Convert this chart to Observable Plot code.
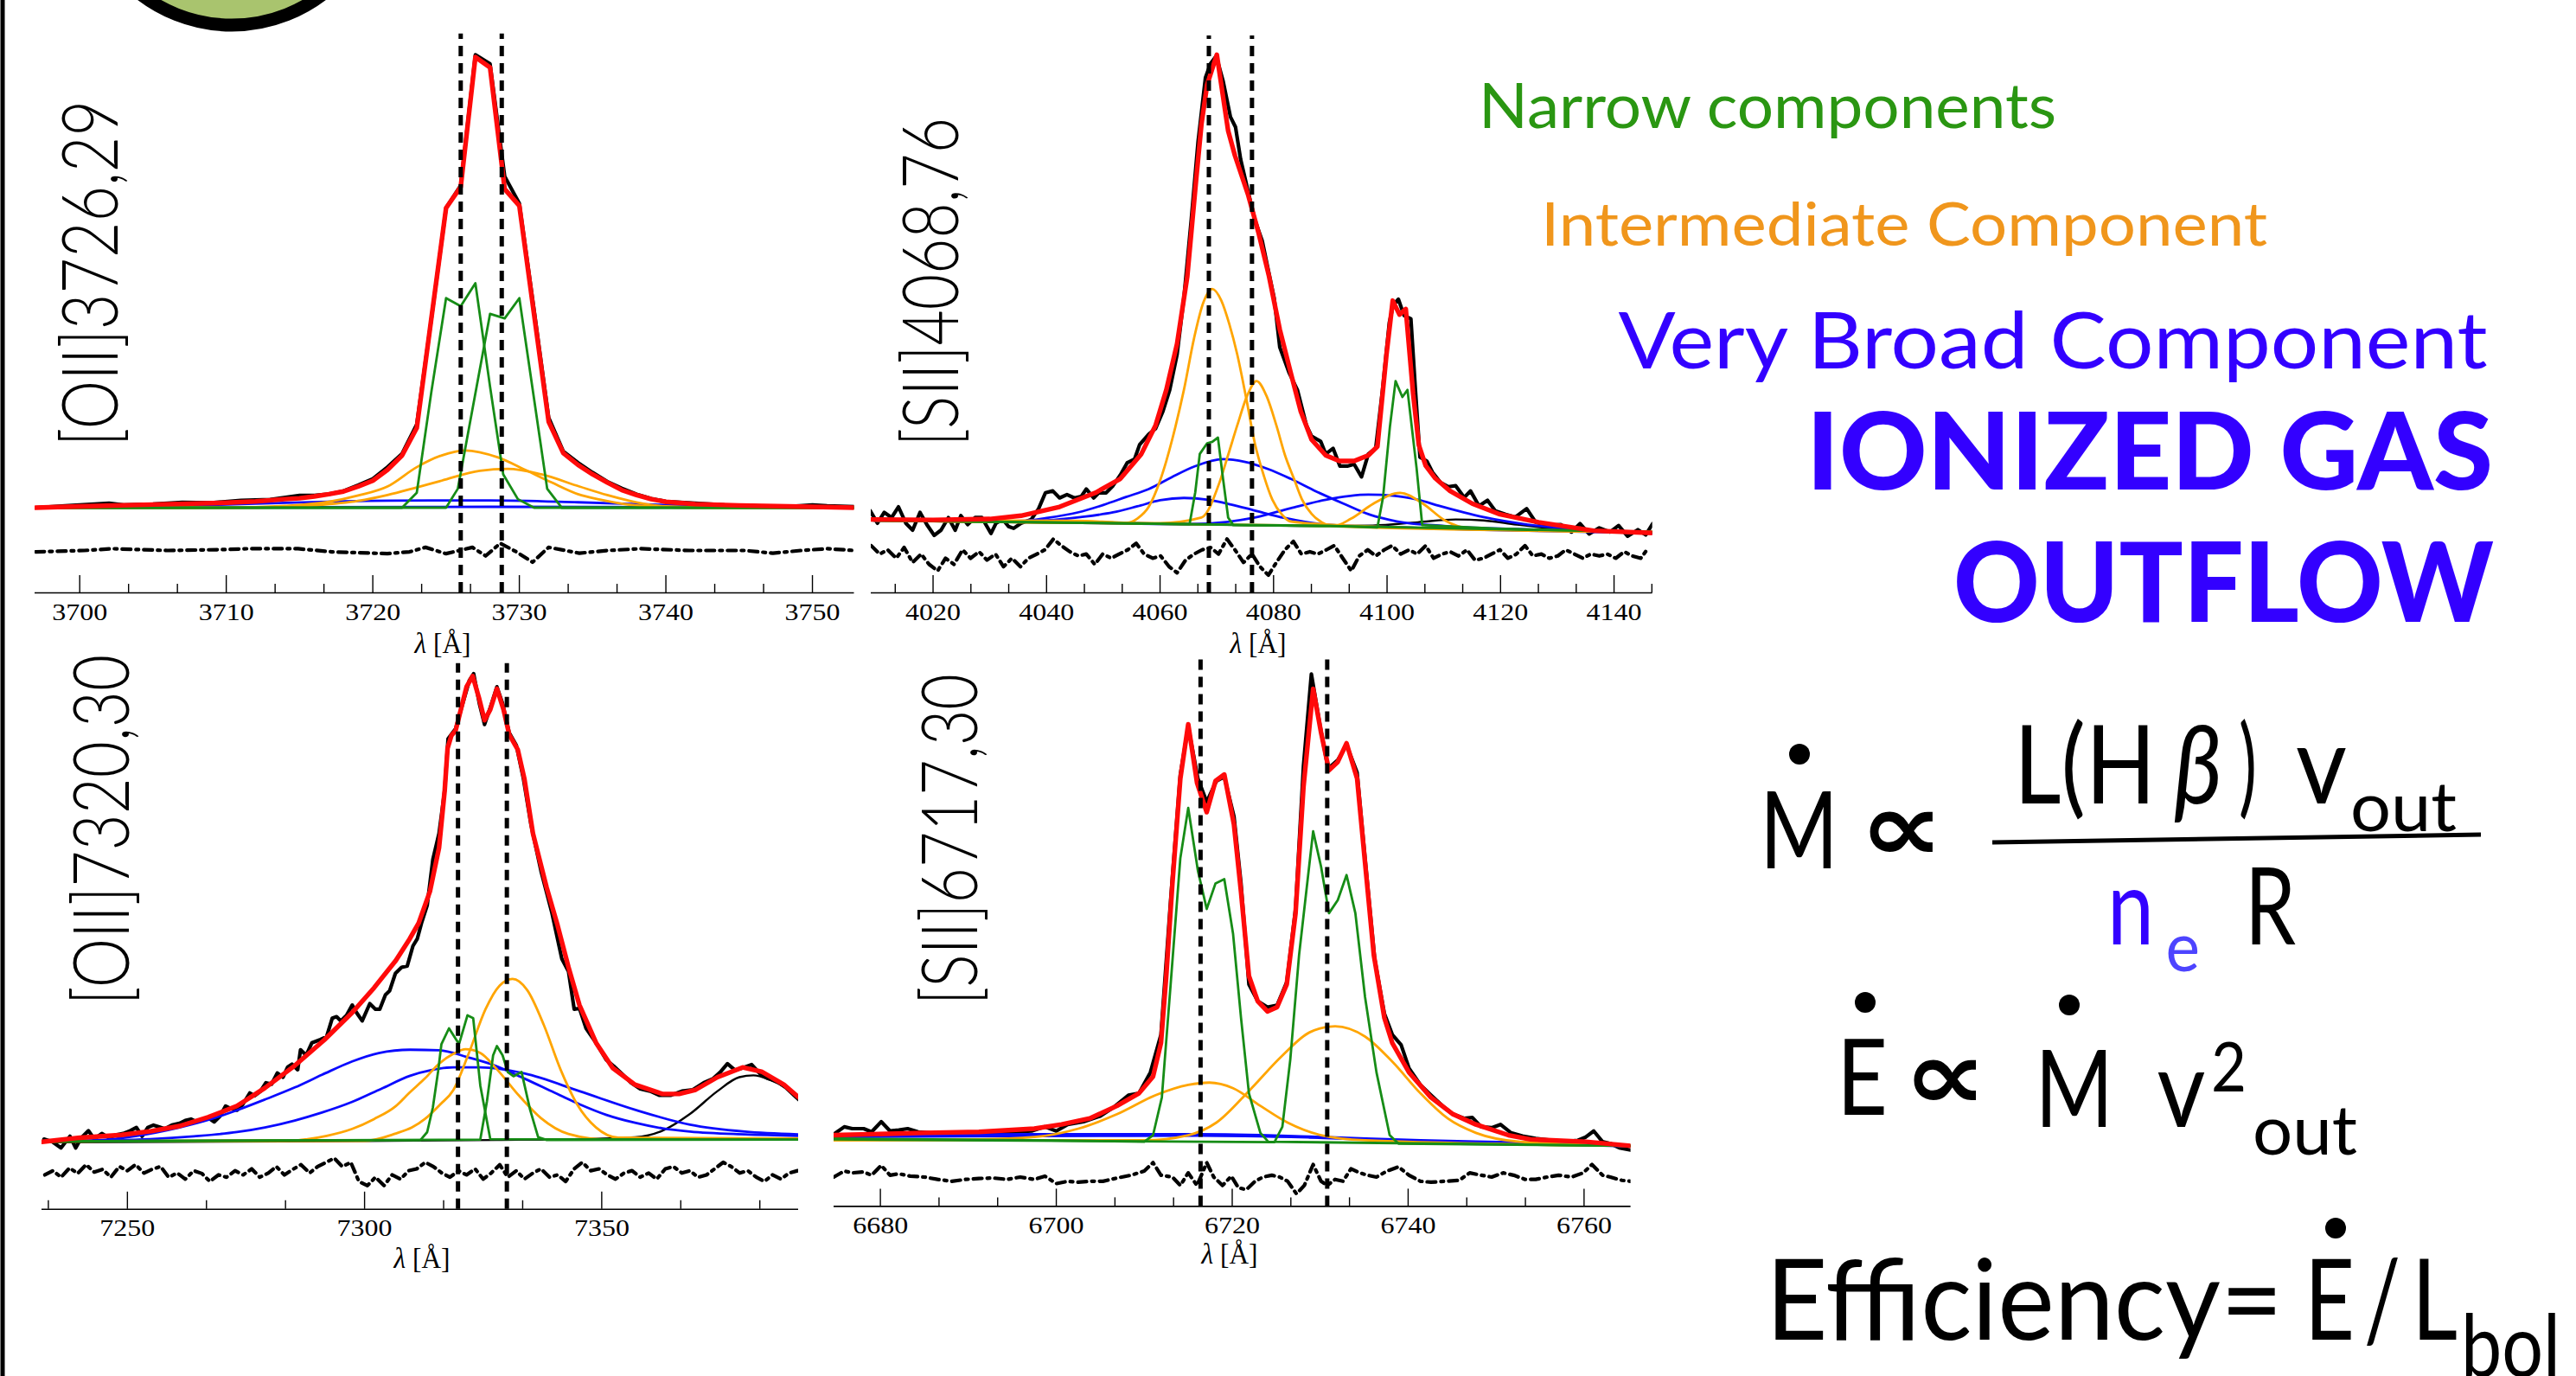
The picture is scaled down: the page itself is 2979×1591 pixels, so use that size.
<!DOCTYPE html>
<html><head><meta charset="utf-8">
<script src="https://cdn.jsdelivr.net/npm/d3@7"></script>
<script src="https://cdn.jsdelivr.net/npm/@observablehq/plot@0.6"></script>
<style>
html,body{margin:0;padding:0;background:#fff;overflow:hidden;}
#stage{position:relative;width:2979px;height:1591px;overflow:hidden;background:#fff;color:#000;}
</style></head><body><div id="stage"></div>
<script>
// ---------------- DATA ----------------
// Panel A: [OII]3726,29
const aObs = [[3697,0.000],[3699,0.004],[3701,0.008],[3702,0.010],[3703,0.006],[3705,0.008],[3707,0.012],[3709,0.011],[3711,0.016],[3713,0.018],[3715,0.027],[3716,0.027],[3717,0.030],[3718,0.037],[3719,0.050],[3720,0.064],[3721,0.090],[3722,0.120],[3723,0.185],[3724,0.420],[3725,0.665],[3726,0.715],[3727,1.005],[3728,0.985],[3729,0.735],[3730,0.675],[3731,0.440],[3732,0.200],[3733,0.125],[3734,0.100],[3735,0.078],[3736,0.058],[3737,0.043],[3738,0.030],[3739,0.020],[3740,0.014],[3742,0.010],[3744,0.006],[3746,0.004],[3748,0.002],[3750,0.006],[3751,0.004],[3753,0.002]];
const aFit = [[3697,0.000],[3700,0.003],[3705,0.007],[3710,0.011],[3712,0.014],[3714,0.019],[3715,0.021],[3716,0.025],[3717,0.030],[3718,0.036],[3719,0.047],[3720,0.060],[3721,0.084],[3722,0.116],[3723,0.177],[3724,0.421],[3725,0.665],[3726,0.712],[3727,1.000],[3728,0.977],[3729,0.707],[3730,0.670],[3731,0.430],[3732,0.191],[3733,0.121],[3734,0.095],[3735,0.074],[3736,0.056],[3737,0.039],[3738,0.028],[3739,0.019],[3740,0.013],[3742,0.008],[3745,0.005],[3750,0.002],[3753,0.000]];
const aNarrow1 = [[3697,0],[3722,0],[3723,0.033],[3724,0.258],[3725,0.465],[3726,0.447],[3727,0.498],[3728,0.269],[3728.9,0.074],[3729.9,0.019],[3731,0],[3753,0]];
const aNarrow2 = [[3697,0],[3725,0],[3725.8,0.042],[3728,0.43],[3729,0.42],[3730,0.465],[3731.9,0.042],[3732.9,0],[3753,0]];
const aInter1 = [[3697,0],[3710,0],[3714,0.004],[3717,0.013],[3719,0.027],[3721,0.047],[3723,0.09],[3724.7,0.116],[3726.3,0.127],[3728.5,0.112],[3730.4,0.084],[3732.2,0.056],[3734,0.03],[3735.5,0.018],[3738,0.005],[3742,0],[3753,0]];
const aInter2 = [[3697,0],[3712,0],[3716,0.005],[3719,0.015],[3721,0.028],[3723,0.045],[3724.7,0.06],[3727.3,0.082],[3729.2,0.086],[3731.5,0.074],[3734.1,0.047],[3736,0.028],[3738,0.012],[3740,0.003],[3744,0],[3753,0]];
const aBroad1 = [[3697,0.0],[3705,0.003],[3712,0.009],[3718,0.014],[3724,0.016],[3728,0.016],[3734,0.012],[3740,0.006],[3746,0.002],[3753,0.0]];
const aBroad2 = [[3697,-0.001],[3715,0.001],[3728,0.002],[3740,0.001],[3753,-0.001]];
const aResid = [[3697,-0.098],[3700.3,-0.095],[3702.2,-0.091],[3706,-0.095],[3709.7,-0.093],[3711.5,-0.091],[3714.9,-0.091],[3717.2,-0.098],[3721,-0.102],[3722.5,-0.098],[3723.6,-0.088],[3725,-0.102],[3726.8,-0.088],[3727.7,-0.107],[3728.7,-0.079],[3729.8,-0.098],[3730.9,-0.121],[3732,-0.088],[3734.1,-0.101],[3736,-0.095],[3738.3,-0.091],[3741.6,-0.095],[3745.4,-0.095],[3747.3,-0.101],[3749.2,-0.095],[3751,-0.091],[3752.9,-0.095]];
const aLines = [3726.0, 3728.8];
const aTicks = [3700, 3710, 3720, 3730, 3740, 3750];

// Panel B: [SII]4068,76
const bObs = [[4008.9,0.021],[4010.2,-0.006],[4011.4,0.017],[4012.7,0.006],[4013.9,0.029],[4015.2,-0.006],[4016.4,-0.021],[4017.7,0.017],[4018.9,-0.009],[4020.2,-0.032],[4021.4,-0.021],[4022.7,0.006],[4023.9,-0.021],[4024.9,0.010],[4026.1,-0.009],[4027.4,0.006],[4028.6,0.006],[4030.2,-0.028],[4031.1,-0.006],[4032.3,0.002],[4033.3,-0.013],[4034.2,-0.017],[4035.5,-0.006],[4037.3,0.002],[4038.6,0.025],[4039.8,0.059],[4041.1,0.063],[4042.3,0.048],[4043.6,0.055],[4044.9,0.048],[4046.1,0.051],[4047.0,0.067],[4048.3,0.048],[4049.2,0.059],[4050.5,0.059],[4051.7,0.074],[4053.0,0.097],[4054.2,0.123],[4055.5,0.131],[4056.4,0.162],[4058.0,0.184],[4059.2,0.196],[4060.5,0.233],[4061.7,0.279],[4063.0,0.355],[4064.2,0.476],[4065.5,0.643],[4066.7,0.810],[4068.0,0.947],[4068.9,0.977],[4069.9,0.993],[4071.1,0.940],[4072.4,0.863],[4073.3,0.841],[4074.2,0.772],[4075.5,0.704],[4076.7,0.643],[4078.0,0.598],[4078.9,0.545],[4080.1,0.476],[4081.1,0.370],[4082.7,0.317],[4084.2,0.279],[4085.8,0.203],[4086.7,0.180],[4088.3,0.169],[4089.2,0.142],[4090.5,0.154],[4091.7,0.116],[4093.0,0.116],[4094.2,0.120],[4095.5,0.093],[4096.7,0.142],[4098.0,0.154],[4099.2,0.279],[4100.4,0.423],[4101.1,0.461],[4102.0,0.473],[4103.0,0.438],[4104.2,0.431],[4105.0,0.279],[4105.8,0.135],[4107.0,0.127],[4108.0,0.103],[4109.4,0.081],[4110.8,0.072],[4112.1,0.074],[4113.6,0.049],[4114.7,0.063],[4116.2,0.031],[4117.7,0.043],[4119.1,0.020],[4120.9,0.013],[4122.6,0.007],[4124.6,0.025],[4126.2,-0.004],[4128.4,-0.011],[4130.6,-0.009],[4132.5,-0.025],[4134.0,-0.007],[4135.6,-0.029],[4137.4,-0.016],[4139.3,-0.025],[4140.8,-0.011],[4142.4,-0.034],[4144.2,-0.020],[4145.6,-0.031],[4146.8,-0.007]];
const bFit = [[4009.1,0.002],[4020,0.001],[4030,0.003],[4035.5,0.010],[4042.3,0.029],[4048.6,0.059],[4053.0,0.089],[4056.7,0.142],[4059.2,0.203],[4061.1,0.279],[4063.0,0.378],[4064.8,0.522],[4066.4,0.734],[4067.3,0.848],[4068.3,0.932],[4070.0,0.996],[4072.0,0.833],[4073.2,0.780],[4075.5,0.697],[4077.4,0.613],[4079.2,0.522],[4081.1,0.408],[4083.0,0.317],[4084.8,0.233],[4086.7,0.173],[4089.2,0.139],[4091.6,0.127],[4094.2,0.127],[4096.7,0.139],[4098.3,0.158],[4099.9,0.355],[4101.0,0.47],[4102.2,0.44],[4103.3,0.452],[4104.6,0.27],[4105.6,0.161],[4106.8,0.117],[4108.5,0.090],[4111.1,0.063],[4115.0,0.036],[4119.9,0.013],[4126.7,-0.004],[4136.4,-0.022],[4146.8,-0.027]];
const bNarrow1 = [[4009.1,0.0],[4040,-0.004],[4065.2,-0.008],[4066.2,0.06],[4067.0,0.142],[4068.3,0.165],[4069.2,0.168],[4070.2,0.177],[4071.1,0.089],[4072.0,0.006],[4072.9,-0.01],[4090,-0.012],[4146.8,-0.025]];
const bNarrow2 = [[4009.1,0.0],[4090,-0.012],[4098.3,-0.015],[4099.3,0.05],[4100.5,0.2],[4101.5,0.298],[4102.7,0.264],[4103.6,0.279],[4105.2,0.112],[4106.2,-0.01],[4120,-0.018],[4146.8,-0.025]];
const bInter1 = [[4009.1,0.0],[4045,-0.001],[4052,-0.004],[4054.2,-0.005],[4056,0.004],[4058.0,0.029],[4060,0.085],[4061.1,0.127],[4062.7,0.2],[4064.2,0.279],[4066,0.39],[4067.6,0.465],[4069.2,0.495],[4070.8,0.47],[4072.2,0.42],[4073.6,0.355],[4075.2,0.26],[4076.7,0.165],[4078.3,0.095],[4079.8,0.044],[4081.5,0.012],[4082.9,-0.002],[4095,-0.012],[4146.8,-0.025]];
const bInter2 = [[4009.1,0.0],[4060,-0.006],[4067.3,0.006],[4070.5,0.082],[4072,0.14],[4073.6,0.203],[4075.3,0.265],[4077.0,0.298],[4078.8,0.265],[4080.5,0.203],[4082,0.14],[4083.6,0.089],[4085,0.045],[4086.7,0.014],[4088.5,-0.004],[4091.1,-0.013],[4146.8,-0.025]];
const bInter3 = [[4009.1,0.0],[4085,-0.011],[4090.7,-0.012],[4093.7,0.004],[4097.5,0.035],[4102.3,0.059],[4106.3,0.036],[4110.2,0.0],[4114.1,-0.016],[4146.8,-0.025]];
const bBroad1 = [[4009.1,0.0],[4030,-0.002],[4036.1,-0.001],[4040,0.005],[4045.5,0.017],[4050,0.033],[4054,0.05],[4058,0.067],[4062,0.092],[4066,0.115],[4071.1,0.131],[4075,0.125],[4079,0.11],[4083,0.089],[4087.5,0.062],[4092.3,0.036],[4097,0.012],[4101.7,-0.002],[4110,-0.012],[4126.7,-0.02],[4146.8,-0.027]];
const bBroad2 = [[4009.1,0.0],[4035,-0.002],[4040,0.0],[4046,0.007],[4051.7,0.017],[4056,0.03],[4060,0.043],[4064.2,0.048],[4068.5,0.044],[4072.5,0.034],[4076.7,0.021],[4082,0.005],[4089.2,-0.009],[4100,-0.014],[4146.8,-0.027]];
const bBroad3 = [[4009.1,0.0],[4050,-0.006],[4065,-0.008],[4072,-0.003],[4076.7,0.006],[4083,0.026],[4089.2,0.044],[4096.7,0.055],[4101,0.053],[4105.5,0.044],[4109.2,0.031],[4117.0,0.007],[4124.8,-0.009],[4136.4,-0.021],[4146.8,-0.027]];
const bCont = [[4009.1,0.003],[4029.5,0.0],[4049.0,-0.004],[4068.4,-0.009],[4087.8,-0.012],[4097.5,-0.011],[4105.4,-0.004],[4112.1,0.002],[4117.0,0.0],[4122.8,-0.009],[4131.5,-0.020],[4146.8,-0.027]];
const bResidX = [4009.1,4010.6,4012.0,4013.5,4014.9,4016.4,4017.9,4019.3,4020.8,4022.2,4023.7,4025.2,4026.6,4028.1,4029.5,4031.0,4032.4,4033.9,4035.4,4036.8,4038.3,4039.7,4041.2,4042.6,4044.1,4045.6,4047.0,4048.5,4049.9,4051.4,4052.8,4054.3,4055.8,4057.2,4058.7,4060.1,4061.6,4063.0,4064.5,4066.0,4067.4,4068.9,4070.3,4071.8,4073.2,4074.7,4076.2,4077.6,4079.1,4080.5,4082.0,4083.5,4084.9,4086.4,4087.8,4089.3,4090.7,4092.2,4093.7,4095.1,4096.6,4098.0,4099.5,4100.9,4102.4,4103.9,4105.3,4106.8,4108.2,4109.7,4111.1,4112.6,4114.1,4115.5,4117.0,4118.4,4119.9,4121.3,4122.8,4124.3,4125.7,4127.2,4128.6,4130.1,4131.5,4133.0,4134.5,4135.9,4137.4,4138.8,4140.3,4141.8,4143.2,4144.7,4146.1];
const bResidY = [-0.054,-0.072,-0.063,-0.081,-0.058,-0.090,-0.072,-0.094,-0.108,-0.081,-0.094,-0.063,-0.081,-0.067,-0.085,-0.072,-0.099,-0.081,-0.099,-0.081,-0.072,-0.063,-0.040,-0.054,-0.067,-0.076,-0.072,-0.094,-0.072,-0.081,-0.072,-0.063,-0.049,-0.072,-0.081,-0.076,-0.099,-0.112,-0.085,-0.072,-0.063,-0.058,-0.072,-0.040,-0.063,-0.090,-0.072,-0.099,-0.117,-0.090,-0.063,-0.045,-0.072,-0.067,-0.072,-0.063,-0.054,-0.081,-0.108,-0.076,-0.063,-0.076,-0.063,-0.054,-0.072,-0.063,-0.072,-0.054,-0.081,-0.072,-0.067,-0.076,-0.063,-0.085,-0.081,-0.072,-0.063,-0.081,-0.072,-0.054,-0.076,-0.072,-0.081,-0.076,-0.063,-0.072,-0.081,-0.072,-0.076,-0.072,-0.081,-0.067,-0.076,-0.081,-0.058];
const bLines = [4068.6, 4076.2];
const bTicks = [4020, 4040, 4060, 4080, 4100, 4120, 4140];

// Panel C: [OII]7320,30
const cObs = [[7232.4,0.005],[7234.2,-0.001],[7236.0,-0.014],[7237.9,0.011],[7239.1,-0.014],[7240.3,0.008],[7241.8,0.023],[7243.0,0.005],[7244.6,0.017],[7246.1,0.008],[7247.6,0.014],[7249.1,0.017],[7250.6,0.023],[7251.9,0.030],[7253.1,0.011],[7254.3,0.030],[7255.5,0.035],[7256.7,0.031],[7257.9,0.027],[7259.4,0.035],[7261.0,0.039],[7262.2,0.045],[7263.4,0.048],[7264.6,0.042],[7265.8,0.045],[7267.0,0.051],[7268.3,0.042],[7269.5,0.054],[7270.7,0.076],[7271.9,0.070],[7273.1,0.067],[7274.3,0.079],[7275.8,0.104],[7276.8,0.098],[7278.0,0.107],[7279.2,0.126],[7280.4,0.123],[7281.6,0.147],[7282.8,0.138],[7283.8,0.160],[7284.7,0.166],[7285.9,0.154],[7286.5,0.197],[7287.7,0.185],[7288.9,0.212],[7290.7,0.219],[7292.0,0.225],[7293.2,0.265],[7294.1,0.268],[7295.0,0.259],[7296.2,0.271],[7297.4,0.293],[7298.3,0.277],[7299.5,0.259],[7301.1,0.296],[7302.3,0.284],[7303.2,0.284],[7304.4,0.315],[7305.3,0.324],[7306.5,0.361],[7307.8,0.374],[7309.0,0.377],[7310.2,0.420],[7311.1,0.435],[7312.0,0.469],[7313.2,0.507],[7314.4,0.606],[7315.7,0.662],[7316.9,0.755],[7317.6,0.865],[7319.2,0.887],[7320.7,0.941],[7322.1,0.991],[7323.0,1.005],[7324.2,0.941],[7325.3,0.896],[7326.5,0.932],[7327.9,0.977],[7329.1,0.941],[7330.5,0.878],[7332.0,0.851],[7333.5,0.779],[7335.1,0.680],[7337.2,0.581],[7339.5,0.491],[7341.6,0.392],[7343.0,0.365],[7344.2,0.284],[7345.3,0.286],[7346.7,0.243],[7348.8,0.212],[7350.9,0.176],[7352.5,0.162],[7354.4,0.144],[7356.2,0.126],[7358.1,0.113],[7360.2,0.108],[7362.2,0.099],[7364.5,0.099],[7366.9,0.108],[7369.2,0.111],[7371.5,0.126],[7373.5,0.135],[7375.0,0.149],[7376.5,0.167],[7378.1,0.153],[7379.7,0.158],[7381.6,0.165],[7383.5,0.144],[7385.1,0.135],[7387.0,0.129],[7389.0,0.114],[7391.5,0.090]];
const cFit = [[7232.0,-0.001],[7240,0.008],[7248.8,0.014],[7255,0.022],[7261,0.033],[7267,0.052],[7273.1,0.076],[7279,0.115],[7285.3,0.163],[7291.5,0.218],[7297.4,0.277],[7302,0.33],[7306.6,0.389],[7309.5,0.435],[7311.4,0.469],[7313.8,0.538],[7315.7,0.631],[7316.9,0.755],[7317.5,0.845],[7318.3,0.872],[7319.2,0.883],[7320.3,0.928],[7321.5,0.977],[7322.8,1.0],[7324.2,0.950],[7325.3,0.905],[7326.5,0.928],[7327.9,0.973],[7329.3,0.928],[7330.5,0.874],[7332.3,0.842],[7333.7,0.779],[7335.5,0.662],[7338.4,0.545],[7340.7,0.464],[7343.0,0.374],[7345.3,0.293],[7348.8,0.212],[7352.3,0.158],[7357.0,0.122],[7362.8,0.102],[7366.3,0.102],[7369.8,0.111],[7374.4,0.138],[7379.7,0.159],[7383.7,0.150],[7388.4,0.122],[7391.5,0.095]];
const cNarrow1 = [[7232,0.0],[7311.8,0.003],[7313.2,0.02],[7314.4,0.073],[7315.5,0.15],[7316.2,0.209],[7317.8,0.243],[7319.6,0.214],[7320.0,0.212],[7321.7,0.271],[7322.9,0.265],[7324.4,0.12],[7325.5,0.06],[7326.5,0.005],[7391.5,0.004]];
const cNarrow2 = [[7232,0.0],[7324.4,0.004],[7325.8,0.086],[7327.1,0.185],[7327.9,0.205],[7329.1,0.185],[7330.2,0.149],[7331.4,0.140],[7333.1,0.149],[7334.9,0.068],[7336.6,0.009],[7338.4,0.003],[7391.5,0.004]];
const cInter1 = [[7232,0],[7285,0.002],[7288.0,0.005],[7292,0.012],[7297.4,0.027],[7302,0.048],[7306.6,0.076],[7309.5,0.105],[7312.7,0.135],[7315.5,0.165],[7318.7,0.188],[7321.3,0.198],[7324.4,0.19],[7327.9,0.155],[7332.6,0.098],[7337.2,0.05],[7343.0,0.016],[7351.2,0.004],[7391.5,0.005]];
const cInter2 = [[7232,0.0],[7300,0.001],[7306.6,0.017],[7310,0.03],[7312.7,0.048],[7316,0.08],[7318.7,0.110],[7322,0.19],[7325.5,0.284],[7328.5,0.335],[7331.2,0.349],[7334.3,0.325],[7337.8,0.25],[7341.3,0.155],[7344.8,0.08],[7348.8,0.03],[7353.5,0.008],[7391.5,0.006]];
const cBroad1 = [[7232,0],[7242.7,0.002],[7252,0.012],[7261,0.030],[7267,0.046],[7273.1,0.067],[7279,0.09],[7285.3,0.116],[7291,0.143],[7297.4,0.172],[7303,0.19],[7309.6,0.197],[7315.7,0.196],[7321.7,0.181],[7327,0.165],[7333.7,0.135],[7340,0.105],[7345.3,0.08],[7351,0.057],[7357.0,0.04],[7362.8,0.028],[7368.6,0.021],[7380.2,0.015],[7391.5,0.012]];
const cBroad2 = [[7232,0],[7245,0.002],[7254.8,0.005],[7264,0.011],[7273.1,0.02],[7279,0.03],[7285.3,0.045],[7291,0.062],[7297.4,0.085],[7303.5,0.113],[7309.6,0.141],[7314,0.153],[7318.7,0.159],[7324.4,0.159],[7333.7,0.146],[7345.3,0.108],[7357.0,0.068],[7368.6,0.036],[7380.2,0.021],[7391.5,0.015]];
const cCont = [[7232,-0.002],[7260,-0.001],[7300,0.001],[7327.9,0.003],[7345.3,0.005],[7357.0,0.009],[7362.8,0.023],[7368.6,0.059],[7374.4,0.108],[7379.0,0.138],[7382.0,0.142],[7385.5,0.132],[7389.0,0.114],[7391.5,0.096]];
const cResidX = [7232.6,7234.3,7236.0,7237.8,7239.5,7241.3,7243.0,7244.8,7246.5,7248.3,7250.0,7251.7,7253.5,7255.2,7257.0,7258.7,7260.5,7262.2,7264.0,7265.7,7267.4,7269.2,7270.9,7272.7,7274.4,7276.2,7277.9,7279.7,7281.4,7283.1,7284.9,7286.6,7288.4,7290.1,7291.9,7293.6,7295.3,7297.1,7298.8,7300.6,7302.3,7304.1,7305.8,7307.6,7309.3,7311.0,7312.8,7314.5,7316.3,7318.0,7319.8,7321.5,7323.3,7325.0,7326.7,7328.5,7330.2,7332.0,7333.7,7335.5,7337.2,7339.0,7340.7,7342.4,7344.2,7345.9,7347.7,7349.4,7351.2,7352.9,7354.7,7356.4,7358.1,7359.9,7361.6,7363.4,7365.1,7366.9,7368.6,7370.3,7372.1,7373.8,7375.6,7377.3,7379.1,7380.8,7382.6,7384.3,7386.0,7387.8,7389.5,7391.3];
const cResidY = [-0.072,-0.063,-0.077,-0.057,-0.069,-0.050,-0.066,-0.060,-0.077,-0.054,-0.063,-0.050,-0.068,-0.060,-0.054,-0.077,-0.068,-0.081,-0.063,-0.069,-0.086,-0.072,-0.077,-0.063,-0.072,-0.059,-0.077,-0.068,-0.054,-0.072,-0.060,-0.050,-0.068,-0.054,-0.045,-0.036,-0.054,-0.045,-0.086,-0.095,-0.077,-0.095,-0.072,-0.081,-0.063,-0.059,-0.045,-0.054,-0.068,-0.077,-0.063,-0.072,-0.059,-0.081,-0.068,-0.050,-0.077,-0.063,-0.081,-0.068,-0.059,-0.077,-0.072,-0.086,-0.059,-0.045,-0.063,-0.059,-0.072,-0.081,-0.068,-0.063,-0.077,-0.068,-0.081,-0.059,-0.054,-0.068,-0.063,-0.077,-0.072,-0.059,-0.045,-0.054,-0.068,-0.063,-0.077,-0.086,-0.072,-0.081,-0.068,-0.063];
const cLines = [7319.7, 7330.0];
const cTicks = [7250, 7300, 7350];

// Panel D: [SII]6717,30
const dObs = [[6674.7,0.011],[6675.9,0.027],[6676.8,0.023],[6678.1,0.023],[6679.0,0.016],[6680.1,0.038],[6681.1,0.018],[6682.1,0.020],[6683.1,0.023],[6684.3,0.016],[6685.6,0.014],[6687.5,0.011],[6689.3,0.009],[6691.2,0.011],[6693.1,0.014],[6695.0,0.016],[6697.2,0.018],[6698.7,0.027],[6700.0,0.018],[6701.3,0.032],[6703.1,0.038],[6705.0,0.050],[6706.6,0.070],[6708.2,0.095],[6709.4,0.099],[6710.7,0.144],[6711.9,0.225],[6713.0,0.514],[6714.1,0.784],[6715.0,0.887],[6716.1,0.775],[6717.1,0.725],[6718.2,0.770],[6719.1,0.779],[6720.2,0.694],[6721.0,0.550],[6721.9,0.333],[6722.9,0.297],[6724.0,0.284],[6725.1,0.288],[6726.2,0.338],[6727.2,0.495],[6728.1,0.802],[6729.0,1.0],[6730.0,0.887],[6730.9,0.797],[6732.0,0.815],[6733.0,0.847],[6734.2,0.788],[6735.1,0.604],[6736.2,0.387],[6737.3,0.270],[6738.2,0.225],[6739.2,0.203],[6740.1,0.153],[6741.4,0.117],[6742.6,0.095],[6743.9,0.072],[6745.1,0.054],[6746.4,0.045],[6747.3,0.047],[6748.3,0.027],[6749.5,0.025],[6750.5,0.032],[6751.7,0.014],[6753.0,0.007],[6754.5,0.002],[6756.4,-0.002],[6757.7,-0.005],[6759.3,-0.002],[6760.2,0.005],[6761.1,0.018],[6762.1,-0.005],[6763.0,-0.009],[6764.0,-0.018],[6765.3,-0.023]];
const dFit = [[6674.7,0.009],[6685.0,0.014],[6691.2,0.016],[6697.5,0.023],[6700.6,0.032],[6703.8,0.045],[6706.9,0.072],[6709.4,0.099],[6711.0,0.135],[6711.9,0.207],[6712.5,0.351],[6713.2,0.550],[6714.1,0.775],[6715.0,0.892],[6716.0,0.766],[6717.1,0.703],[6718.1,0.770],[6719.1,0.784],[6720.2,0.676],[6721.0,0.532],[6721.9,0.351],[6722.9,0.297],[6724.0,0.275],[6725.1,0.284],[6726.2,0.333],[6727.2,0.486],[6728.1,0.757],[6729.2,0.968],[6730.1,0.874],[6731.0,0.793],[6732.0,0.811],[6733.0,0.851],[6734.2,0.775],[6735.1,0.595],[6736.1,0.396],[6737.3,0.261],[6738.2,0.207],[6740.1,0.144],[6742.6,0.090],[6745.1,0.054],[6747.7,0.032],[6751.4,0.009],[6753.9,0.0],[6760.2,-0.005],[6765.3,-0.014]];
const dNarrow1 = [[6674.7,0.002],[6697.5,-0.002],[6710.0,-0.005],[6711.0,0.009],[6712.0,0.090],[6713.0,0.333],[6714.1,0.604],[6715.0,0.712],[6716.1,0.577],[6717.1,0.495],[6718.1,0.550],[6719.1,0.559],[6720.1,0.441],[6721.0,0.261],[6721.9,0.099],[6723.2,0.014],[6724.1,-0.005],[6765.3,-0.014]];
const dNarrow2 = [[6674.7,0.0],[6724.8,-0.006],[6725.7,0.027],[6726.6,0.171],[6727.6,0.396],[6729.2,0.662],[6730.1,0.586],[6731.0,0.486],[6732.0,0.514],[6733.0,0.568],[6734.0,0.486],[6735.1,0.306],[6736.4,0.144],[6737.9,0.009],[6738.9,-0.009],[6765.3,-0.014]];
const dInter1 = [[6674.7,-0.002],[6691.2,0],[6697.5,0.005],[6702.5,0.023],[6706.9,0.054],[6711.3,0.095],[6715.0,0.117],[6717.4,0.122],[6720.1,0.110],[6723.2,0.072],[6726.3,0.036],[6730.1,0.009],[6735.1,-0.002],[6765.3,-0.014]];
const dInter2 = [[6674.7,-0.002],[6710.0,-0.002],[6715.0,0.009],[6718.2,0.036],[6721.9,0.104],[6725.7,0.180],[6728.8,0.230],[6731.7,0.243],[6735.1,0.221],[6738.2,0.167],[6741.4,0.099],[6744.5,0.045],[6747.7,0.014],[6752.7,-0.005],[6765.3,-0.014]];
const dBroad1 = [[6674.7,0.009],[6697.5,0.011],[6716.3,0.011],[6728.8,0.006],[6741.4,-0.002],[6753.9,-0.007],[6765.3,-0.014]];
const dBroad2 = [[6674.7,0.005],[6697.5,0.007],[6716.3,0.008],[6728.8,0.004],[6741.4,-0.004],[6753.9,-0.009],[6765.3,-0.015]];
const dResid = [[6674.7,-0.081],[6675.9,-0.068],[6676.8,-0.072],[6678.1,-0.070],[6679.0,-0.077],[6680.1,-0.056],[6681.1,-0.077],[6682.1,-0.074],[6683.4,-0.079],[6685.0,-0.081],[6686.5,-0.086],[6688.1,-0.090],[6689.7,-0.086],[6691.2,-0.084],[6692.8,-0.083],[6694.4,-0.086],[6695.9,-0.081],[6697.5,-0.086],[6698.7,-0.079],[6700.0,-0.095],[6701.3,-0.090],[6702.5,-0.092],[6703.8,-0.090],[6705.3,-0.090],[6706.9,-0.083],[6708.5,-0.077],[6710.0,-0.068],[6711.0,-0.050],[6711.9,-0.077],[6713.2,-0.081],[6714.1,-0.099],[6715.0,-0.072],[6716.0,-0.099],[6717.1,-0.050],[6717.9,-0.081],[6718.9,-0.099],[6719.9,-0.079],[6720.7,-0.104],[6721.6,-0.108],[6722.6,-0.090],[6723.5,-0.081],[6724.5,-0.077],[6725.4,-0.081],[6726.3,-0.090],[6727.3,-0.117],[6728.2,-0.099],[6729.2,-0.054],[6730.1,-0.090],[6730.8,-0.099],[6731.7,-0.086],[6732.6,-0.090],[6733.5,-0.063],[6734.5,-0.072],[6735.4,-0.077],[6736.4,-0.081],[6737.6,-0.068],[6738.9,-0.059],[6740.1,-0.077],[6741.4,-0.090],[6742.6,-0.092],[6744.2,-0.090],[6745.8,-0.088],[6747.0,-0.072],[6748.3,-0.077],[6749.5,-0.081],[6750.8,-0.072],[6752.0,-0.077],[6753.3,-0.086],[6754.5,-0.086],[6755.8,-0.081],[6757.1,-0.077],[6758.6,-0.081],[6759.9,-0.072],[6760.9,-0.054],[6762.1,-0.077],[6763.0,-0.081],[6764.3,-0.088],[6765.3,-0.090]];
const dLines = [6716.4, 6730.8];
const dTicks = [6680, 6700, 6720, 6740, 6760];

// ---------------- STYLE ----------------
const C_FIT = "#ff0a0a", C_NAR = "#168c16", C_INT = "#ffa500", C_BRD = "#0a0aff";
const SANS = "Lato, 'Open Sans', 'DejaVu Sans', sans-serif";
const SERIF = "'Liberation Serif', 'DejaVu Serif', serif";
const stage = document.getElementById("stage");

function thirds(majors, step, lo, hi) {
  const out = [];
  for (let i = -1; i <= majors.length; i++) {
    const m = majors[0] + i * step;
    for (const k of [1, 2]) { const v = m + k * step / 3; if (v > lo && v < hi) out.push(v); }
  }
  return out;
}

function panel(cfg) {
  const LN = (data, o) => Plot.line(data, {x: d => d[0], y: d => d[1], clip: true, ...o});
  const chart = Plot.plot({
    width: cfg.width, height: cfg.plotH + 45,
    marginLeft: 0, marginRight: 0, marginTop: 0, marginBottom: 45,
    x: {domain: cfg.x}, y: {domain: cfg.y, axis: null},
    style: {background: "transparent", overflow: "visible", color: "#000"},
    marks: [
      LN(cfg.obs, {stroke: "#000", strokeWidth: 4.2}),
      ...cfg.cont.map(s => LN(s, {stroke: "#000", strokeWidth: 2.4, curve: "monotone-x"})),
      ...cfg.broad.map(s => LN(s, {stroke: C_BRD, strokeWidth: 2.8, curve: "monotone-x"})),
      ...cfg.inter.map(s => LN(s, {stroke: C_INT, strokeWidth: 2.8, curve: "monotone-x"})),
      ...cfg.narrow.map(s => LN(s, {stroke: C_NAR, strokeWidth: 2.8})),
      LN(cfg.fit, {stroke: C_FIT, strokeWidth: 5.4}),
      LN(cfg.resid, {stroke: "#000", strokeWidth: 4.2, strokeDasharray: "10,6,3,6"}),
      Plot.ruleX(cfg.lines, {x: d => d, y1: cfg.y[0], y2: cfg.dashTop, stroke: "#000", strokeWidth: 5, strokeDasharray: "12,8"}),
      Plot.ruleY([cfg.y[0]], {stroke: "#000", strokeWidth: 1.6}),
      Plot.tickX(cfg.ticks, {x: d => d, insetTop: cfg.plotH - 20, strokeWidth: 1.4}),
      Plot.tickX(thirds(cfg.ticks, cfg.ticks[1] - cfg.ticks[0], cfg.x[0], cfg.x[1]), {x: d => d, insetTop: cfg.plotH - 10, strokeWidth: 1.4}),
      Plot.axisX({ticks: cfg.ticks, tickSize: 0, tickPadding: 12, tickFormat: d => String(d), fontSize: 27, fontFamily: SERIF, label: null})
    ]
  });
  chart.querySelectorAll('[aria-label="x-axis tick label"] text').forEach(t => {
    t.setAttribute("textLength", 64);
    t.setAttribute("lengthAdjust", "spacingAndGlyphs");
  });
  chart.style.position = "absolute";
  chart.style.left = cfg.left + "px";
  chart.style.top = cfg.top + "px";
  stage.appendChild(chart);
}

panel({left: 39.5, top: 0, width: 947.5, plotH: 685, x: [3696.95, 3752.86], y: [-0.189, 1.1256], dashTop: 1.051,
  obs: aObs, fit: aFit, narrow: [aNarrow1, aNarrow2], inter: [aInter1, aInter2], broad: [aBroad1, aBroad2], cont: [],
  resid: aResid, lines: aLines, ticks: aTicks});
panel({left: 1007.4, top: 0, width: 903.7, plotH: 685, x: [4009.1, 4146.8], y: [-0.155, 1.112], dashTop: 1.036,
  obs: bObs, fit: bFit, narrow: [bNarrow1, bNarrow2], inter: [bInter1, bInter2, bInter3], broad: [bBroad1, bBroad2, bBroad3], cont: [bCont],
  resid: bResidX.map((v, i) => [v, bResidY[i]]), lines: bLines, ticks: bTicks});
panel({left: 47.8, top: 740, width: 875, plotH: 657.8, x: [7231.98, 7391.5], y: [-0.146, 1.0766], dashTop: 1.027,
  obs: cObs, fit: cFit, narrow: [cNarrow1, cNarrow2], inter: [cInter1, cInter2], broad: [cBroad1, cBroad2], cont: [cCont],
  resid: cResidX.map((v, i) => [v, cResidY[i]]), lines: cLines, ticks: cTicks});
panel({left: 963.6, top: 740, width: 921.6, plotH: 654.4, x: [6674.73, 6765.33], y: [-0.144, 1.072], dashTop: 1.032,
  obs: dObs, fit: dFit, narrow: [dNarrow1, dNarrow2], inter: [dInter1, dInter2], broad: [dBroad1, dBroad2], cont: [],
  resid: dResid, lines: dLines, ticks: dTicks});

// ---------------- OVERLAY TEXT ----------------
const ov = d3.select(stage).append("svg").attr("width", 2979).attr("height", 1591)
  .style("position", "absolute").style("left", "0px").style("top", "0px").style("pointer-events", "none");

ov.append("line").attr("x1", 3).attr("x2", 3).attr("y1", 0).attr("y2", 1591).attr("stroke", "#000").attr("stroke-width", 5);
ov.append("circle").attr("cx", 268).attr("cy", -144).attr("r", 173).attr("fill", "#a9c46e").attr("stroke", "#000").attr("stroke-width", 15);

function txt(x, y, s, o = {}) {
  const t = ov.append("text").attr("x", x).attr("y", y).text(s)
    .attr("font-family", o.family || SANS).attr("font-size", o.size || 40)
    .attr("font-weight", o.weight || 400).attr("font-style", o.style || "normal")
    .attr("fill", o.color || "#000").attr("text-anchor", o.anchor || "start");
  if (o.len) t.attr("textLength", o.len).attr("lengthAdjust", "spacingAndGlyphs");
  if (o.rot) t.attr("transform", `rotate(${o.rot},${x},${y})`);
  return t;
}

// rotated panel titles
txt(136, 516, "[OII]3726,29", {size: 90, len: 400, rot: -90, weight: 300});
txt(1108, 516, "[SII]4068,76", {size: 90, len: 380, rot: -90, weight: 300});
txt(149, 1162, "[OII]7320,30", {size: 90, len: 405, rot: -90, weight: 300});
txt(1130, 1162, "[SII]6717,30", {size: 90, len: 383, rot: -90, weight: 300});

// axis titles
function lam(x, y) {
  const t = ov.append("text").attr("x", x).attr("y", y).attr("text-anchor", "middle")
    .attr("font-family", SERIF).attr("font-size", 34).attr("fill", "#000")
    .attr("textLength", 65).attr("lengthAdjust", "spacingAndGlyphs");
  t.append("tspan").attr("font-style", "italic").text("λ");
  t.append("tspan").text(" [Å]");
}
lam(512, 755); lam(1455, 755); lam(488, 1466); lam(1422, 1461);

// legend-like annotations
txt(1710, 148, "Narrow components", {size: 72, len: 668, color: "#2a9612"});
txt(1782, 283.5, "Intermediate Component", {size: 70, len: 840, color: "#f0961c"});
txt(1871.5, 425.6, "Very Broad Component", {size: 92, len: 1005, color: "#3300ff"});
txt(2089, 566, "IONIZED GAS", {size: 124, len: 794, color: "#3300ff", weight: 900});
txt(2259, 719, "OUTFLOW", {size: 127, len: 625, color: "#3300ff", weight: 900});

// equations
const dot = (x, y) => ov.append("circle").attr("cx", x).attr("cy", y).attr("r", 12).attr("fill", "#000");
const PROP = "'DejaVu Sans', sans-serif";
txt(2035, 1004, "M", {size: 124, len: 91}); dot(2081, 872);
txt(2150, 995, "∝", {size: 112, len: 98, family: PROP, weight: 700});
txt(2329, 929, "L(H", {size: 127, len: 164});
txt(2514, 929, "β", {size: 127, len: 56, style: "italic"});
txt(2589, 929, ")", {size: 127, len: 21});
txt(2655, 929, "v", {size: 127, len: 59});
txt(2718, 961, "out", {size: 80, len: 123});
ov.append("line").attr("x1", 2304).attr("y1", 974).attr("x2", 2869).attr("y2", 965).attr("stroke", "#000").attr("stroke-width", 5);
txt(2437, 1091.6, "n", {size: 122, len: 54, color: "#3300ff"});
txt(2504.5, 1123, "e", {size: 79, len: 39.5, color: "#4d44ff"});
txt(2596, 1091.6, "R", {size: 125, len: 59});

txt(2124, 1289, "E", {size: 123, len: 59}); dot(2157, 1159);
txt(2201, 1282, "∝", {size: 112, len: 97, family: PROP, weight: 700});
txt(2353.5, 1303, "M", {size: 124, len: 90.5}); dot(2393, 1162);
txt(2494.6, 1303, "v", {size: 124, len: 56});
txt(2557, 1262, "2", {size: 80, len: 41});
txt(2605, 1335, "out", {size: 80, len: 121});

txt(2042, 1549, "Efficiency=", {size: 130, len: 598});
txt(2665, 1549, "E", {size: 130, len: 58}); dot(2701, 1420);
txt(2734, 1549, "/", {size: 130, len: 42});
txt(2789, 1549, "L", {size: 130, len: 53});
txt(2846, 1592, "bol", {size: 100, len: 115});
</script></body></html>
